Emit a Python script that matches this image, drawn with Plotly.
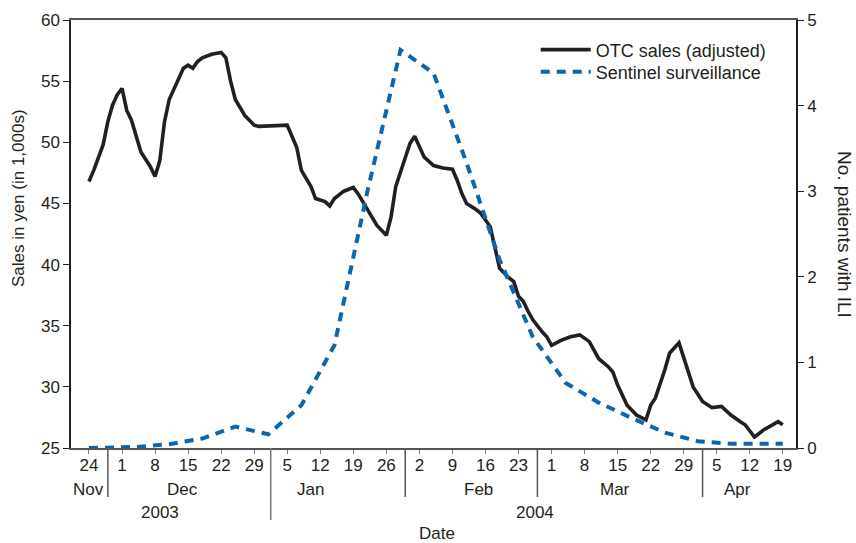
import plotly.graph_objects as go

# ---------------- data ----------------
otc_dates = [
    "2003-11-24", "2003-11-25", "2003-11-27", "2003-11-28", "2003-11-29", "2003-11-30",
    "2003-12-01", "2003-12-02", "2003-12-03", "2003-12-04", "2003-12-05", "2003-12-07",
    "2003-12-08", "2003-12-09", "2003-12-10", "2003-12-11", "2003-12-13", "2003-12-14",
    "2003-12-15", "2003-12-16", "2003-12-17", "2003-12-18", "2003-12-20", "2003-12-22",
    "2003-12-23", "2003-12-24", "2003-12-25", "2003-12-27", "2003-12-29", "2003-12-30",
    "2004-01-05", "2004-01-07", "2004-01-08", "2004-01-10", "2004-01-11", "2004-01-13",
    "2004-01-14", "2004-01-15", "2004-01-17", "2004-01-19", "2004-01-20", "2004-01-22",
    "2004-01-24", "2004-01-26", "2004-01-27", "2004-01-28", "2004-01-30", "2004-01-31",
    "2004-02-01", "2004-02-02", "2004-02-03", "2004-02-05", "2004-02-07", "2004-02-09",
    "2004-02-10", "2004-02-11", "2004-02-12", "2004-02-14", "2004-02-15", "2004-02-17",
    "2004-02-18", "2004-02-19", "2004-02-21", "2004-02-22", "2004-02-23", "2004-02-24",
    "2004-02-25", "2004-02-26", "2004-02-28", "2004-02-29", "2004-03-01", "2004-03-03",
    "2004-03-05", "2004-03-07", "2004-03-09", "2004-03-11", "2004-03-13", "2004-03-14",
    "2004-03-15", "2004-03-17", "2004-03-19", "2004-03-21", "2004-03-22", "2004-03-23",
    "2004-03-25", "2004-03-26", "2004-03-28", "2004-03-31", "2004-04-02", "2004-04-04",
    "2004-04-06", "2004-04-08", "2004-04-10", "2004-04-11", "2004-04-13", "2004-04-15",
    "2004-04-18", "2004-04-19",
]
otc_values = [
    46.8, 47.7, 49.8, 51.7, 53.05, 53.9,
    54.4, 52.6, 51.8, 50.5, 49.2, 48.0,
    47.2, 48.5, 51.7, 53.5, 55.1, 56.05,
    56.3, 56.05, 56.6, 56.9, 57.2, 57.35,
    56.9, 55.0, 53.5, 52.2, 51.4, 51.3,
    51.4, 49.6, 47.7, 46.4, 45.4, 45.15,
    44.8, 45.4, 46.0, 46.3, 45.8, 44.5,
    43.2, 42.4, 43.9, 46.4, 48.8, 49.9,
    50.5, 49.6, 48.8, 48.1, 47.9, 47.8,
    46.9, 45.8, 45.0, 44.5, 44.2, 43.1,
    41.3, 39.7, 38.9, 38.6, 37.4, 37.0,
    36.2, 35.5, 34.5, 34.1, 33.4, 33.8,
    34.1, 34.25, 33.7, 32.3, 31.65, 31.2,
    30.15, 28.5, 27.7, 27.3, 28.5, 29.1,
    31.4, 32.75, 33.6, 30.0, 28.8, 28.3,
    28.4, 27.7, 27.15, 26.9, 25.9, 26.5,
    27.15, 26.9,
]

ili_dates = [
    "2003-11-24", "2003-12-04", "2003-12-11", "2003-12-18", "2003-12-25", "2004-01-01",
    "2004-01-08", "2004-01-15", "2004-01-22", "2004-01-29", "2004-02-05", "2004-02-12",
    "2004-02-19", "2004-02-26", "2004-03-04", "2004-03-11", "2004-03-18", "2004-03-25",
    "2004-04-01", "2004-04-08", "2004-04-15", "2004-04-19",
]
ili_values = [
    0.0, 0.012, 0.045, 0.11, 0.25, 0.16,
    0.5, 1.2, 3.0, 4.65, 4.38, 3.33,
    2.2, 1.3, 0.76, 0.53, 0.35, 0.18,
    0.08, 0.05, 0.05, 0.05,
]

week_ticks = [
    "2003-11-24", "2003-12-01", "2003-12-08", "2003-12-15", "2003-12-22", "2003-12-29",
    "2004-01-05", "2004-01-12", "2004-01-19", "2004-01-26", "2004-02-02", "2004-02-09",
    "2004-02-16", "2004-02-23", "2004-03-01", "2004-03-08", "2004-03-15", "2004-03-22",
    "2004-03-29", "2004-04-05", "2004-04-12", "2004-04-19",
]
week_labels = ["24", "1", "8", "15", "22", "29", "5", "12", "19", "26", "2", "9",
               "16", "23", "1", "8", "15", "22", "29", "5", "12", "19"]

month_names = ["Nov", "Dec", "Jan", "Feb", "Mar", "Apr"]
month_label_pos = ["2003-11-24", "2003-12-13 18:00", "2004-01-10", "2004-02-14 12:00",
                   "2004-03-14 10:00", "2004-04-09 10:00"]
month_separators = ["2003-11-28", "2004-01-30", "2004-02-27", "2004-04-02"]
year_separator = "2004-01-01 12:00"
year_names = ["2003", "2004"]
year_label_pos = ["2003-12-09", "2004-02-26 12:00"]

x_range = ["2003-11-20 04:30", "2004-04-21 19:00"]

# ---------------- style ----------------
FONT = "Liberation Sans, Arial, Helvetica, sans-serif"
TXT = "#231f20"
FS = 17

fig = go.Figure()
fig.add_trace(go.Scatter(
    x=otc_dates, y=otc_values, mode="lines", name="OTC sales (adjusted)",
    line=dict(color="#231f20", width=3.6), yaxis="y", legend="legend"))
fig.add_trace(go.Scatter(
    x=ili_dates, y=ili_values, mode="lines", name="Sentinel surveillance",
    line=dict(color="#0a66b0", width=4, dash="9px,7px"), yaxis="y2", legend="legend2"))

shapes = []
for d in month_separators:
    shapes.append(dict(type="line", xref="x", yref="paper", x0=d, x1=d, y0=0, y1=-0.1145,
                       line=dict(color="#555555", width=1.5)))
shapes.append(dict(type="line", xref="x", yref="paper", x0=year_separator, x1=year_separator,
                   y0=0, y1=-0.168, line=dict(color="#777777", width=1.5)))

annotations = []
for name, pos in zip(month_names, month_label_pos):
    annotations.append(dict(x=pos, y=-0.098, xref="x", yref="paper", text=name,
                            showarrow=False, xanchor="center", yanchor="middle",
                            font=dict(family=FONT, size=FS, color=TXT)))
for name, pos in zip(year_names, year_label_pos):
    annotations.append(dict(x=pos, y=-0.15, xref="x", yref="paper", text=name,
                            showarrow=False, xanchor="center", yanchor="middle",
                            font=dict(family=FONT, size=FS, color=TXT)))
annotations.append(dict(x=0.505, y=-0.2, xref="paper", yref="paper", text="Date",
                        showarrow=False, xanchor="center", yanchor="middle", borderpad=0,
                        font=dict(family=FONT, size=FS, color=TXT)))
annotations.append(dict(x=-0.0731, y=0.584, xref="paper", yref="paper",
                        text="Sales in yen (in 1,000s)", textangle=-90,
                        showarrow=False, xanchor="center", yanchor="middle",
                        font=dict(family=FONT, size=FS, color=TXT)))
annotations.append(dict(x=1.0676, y=0.5, xref="paper", yref="paper",
                        text="No. patients with ILI", textangle=90,
                        showarrow=False, xanchor="center", yanchor="middle",
                        font=dict(family=FONT, size=19, color=TXT)))

legend_common = dict(xanchor="left", yanchor="middle", bgcolor="rgba(0,0,0,0)",
                     font=dict(family=FONT, size=18, color=TXT), itemwidth=50)

fig.update_layout(
    width=856, height=543, autosize=False,
    margin=dict(l=71, r=60, t=20, b=95, autoexpand=False),
    paper_bgcolor="white", plot_bgcolor="white",
    font=dict(family=FONT, size=FS, color=TXT),
    showlegend=True,
    legend=dict(x=0.641, y=0.93, **legend_common),
    legend2=dict(x=0.641, y=0.8785, **legend_common),
    xaxis=dict(type="date", range=x_range, tickmode="array", tickvals=week_ticks,
               ticktext=week_labels, ticks="outside", ticklen=4, tickwidth=1,
               tickcolor="#777777", showline=True, linecolor="#555555", linewidth=1.5,
               mirror=True, showgrid=False, zeroline=False, automargin=False,
               ticklabelstandoff=-3,
               tickfont=dict(family=FONT, size=FS, color=TXT)),
    yaxis=dict(range=[25, 60], tickmode="array", tickvals=[25, 30, 35, 40, 45, 50, 55, 60],
               ticks="outside", ticklen=6, tickcolor="#231f20", showline=True,
               linecolor="#231f20", linewidth=1.5, showgrid=False, zeroline=False,
               automargin=False, tickfont=dict(family=FONT, size=FS, color=TXT)),
    yaxis2=dict(range=[0, 5], overlaying="y", side="right", tickmode="array",
                tickvals=[0, 1, 2, 3, 4, 5], ticks="outside", ticklen=6,
                tickcolor="#231f20", showline=True, linecolor="#231f20", linewidth=1.5,
                showgrid=False, zeroline=False, automargin=False,
                tickfont=dict(family=FONT, size=FS, color=TXT)),
    shapes=shapes,
    annotations=annotations,
)

fig.write_html(
    "out.html",
    config={"displayModeBar": False},
    post_script="document.body.style.margin='0';document.body.style.padding='0';",
)
